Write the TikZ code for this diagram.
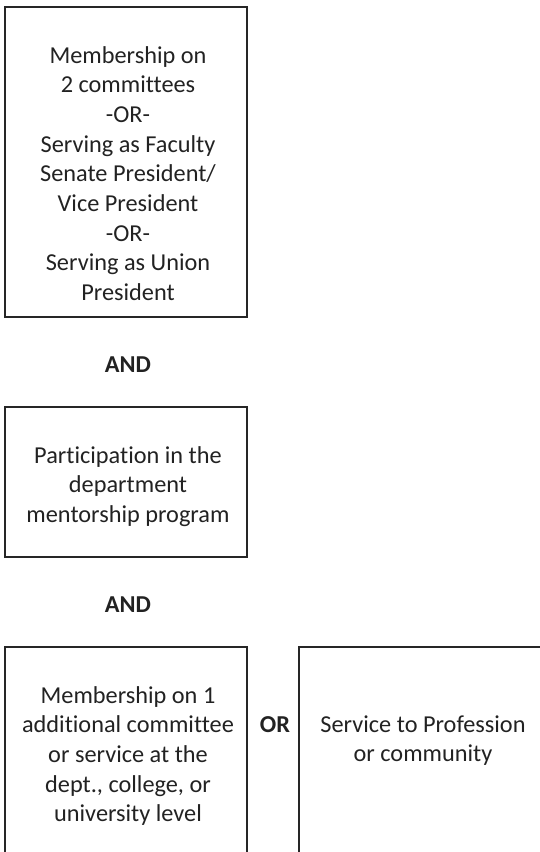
\documentclass[tikz,border=0pt]{standalone}
\usepackage{fontspec}
\setmainfont{Carlito}[Ligatures=NoCommon]
\definecolor{txt}{HTML}{222222}
\definecolor{edge}{HTML}{262626}
\tikzset{
  box/.style={draw=edge, line width=1.4pt, rectangle, inner sep=0pt},
  boxtext/.style={anchor=base, inner sep=0pt, text=txt, font=\fontsize{24.3}{29.7}\selectfont},
  conj/.style={anchor=base, inner sep=0pt, text=txt, font=\fontsize{24.3}{29.7}\selectfont\bfseries}
}
\begin{document}
\begin{tikzpicture}[x=1pt,y=-1pt]
\useasboundingbox (0,0) rectangle (540,852);
\clip (0,0) rectangle (540,852);
\node[box, minimum width=242pt, minimum height=310pt] (b1) at (126,162) {};
\node[box, minimum width=242pt, minimum height=150pt] (b2) at (126,482) {};
\node[box, minimum width=242pt, minimum height=240pt] (b3) at (126,767) {};
\node[box, minimum width=250pt, minimum height=240pt] (b4) at (424,767) {};
\node[boxtext] (t1) at (128,63) {\setlength{\tabcolsep}{0pt}\begin{tabular}[t]{c}Membership on\\2 committees\\-OR-\\Serving as Faculty\\Senate President/\\Vice President\\-OR-\\Serving as Union\\President\end{tabular}};
\node[conj] (and1) at (128,372) {AND};
\node[boxtext] (t2) at (128,463) {\setlength{\tabcolsep}{0pt}\begin{tabular}[t]{c}Participation in the\\department\\mentorship program\end{tabular}};
\node[conj] (and2) at (128,612) {AND};
\node[boxtext] (t3) at (128,703) {\setlength{\tabcolsep}{0pt}\begin{tabular}[t]{c}Membership on 1\\additional committee\\or service at the\\dept., college, or\\university level\end{tabular}};
\node[conj] (or) at (275,732) {OR};
\node[boxtext] (t4) at (423,732) {\setlength{\tabcolsep}{0pt}\begin{tabular}[t]{c}Service to Profession\\or community\end{tabular}};
\end{tikzpicture}
\end{document}
